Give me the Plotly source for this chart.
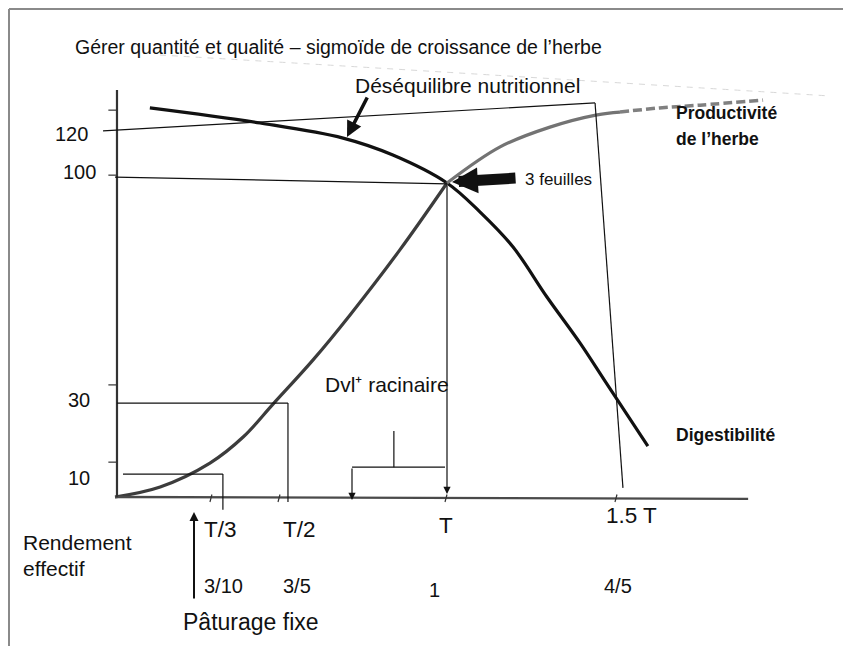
import plotly.graph_objects as go

# ---------------- data (x in units of T, y relative: 3-leaf point = 100) ----------------
prod_x_early = [0, 0.136, 0.286, 0.386, 0.476, 0.596, 0.708, 0.858, 1.0]
prod_y_early = [0, 3.2, 10.8, 19.1, 29.6, 43.6, 58.0, 78.7, 100]
prod_x_late = [1.0, 1.160, 1.310, 1.452, 1.521]
prod_y_late = [100, 111.5, 117.8, 121.7, 122.6]
prod_x_dash = [1.521, 1.640, 1.762, 1.952]
prod_y_dash = [122.6, 123.9, 124.8, 126.4]

dig_x = [0.105, 0.437, 0.687, 0.837, 1.0, 1.099, 1.199, 1.301, 1.401, 1.476, 1.605]
dig_y = [123.9, 119.1, 114.3, 108.9, 100, 90.8, 79.6, 63.7, 49.0, 36.9, 16.2]

x_tick_vals = [0.292, 0.497, 1.0, 1.512]
x_tick_labels = ["T/3", "T/2", "T", "1.5 T"]
rendement_labels = ["3/10", "3/5", "1", "4/5"]
y_tick_labels = ["120", "100", "30", "10"]
y_tick_vals = [123.2, 102.5, 35.7, 11.1]

title_text = "Gérer quantité et qualité – sigmoïde de croissance de l’herbe"

# ---------------- geometry of the page ----------------
W, H = 851, 646        # window
OFF = 8                # page body margin
X0, SX = 115, 332      # pixel of x=0, pixels per T
Y0, SY = 497, 3.14     # pixel of y=0, pixels per unit

def px(x):
    return (x - X0) / SX

def py(y):
    return (Y0 - y) / SY

def pp(x, y):
    return (x - OFF) / (W - OFF), 1 - (y - OFF) / (H - OFF)

FONT = "Liberation Sans, Arial, sans-serif"
fig = go.Figure()

# curves
fig.add_trace(go.Scatter(x=dig_x, y=dig_y, mode="lines", line=dict(color="#111111", width=3.2, shape="spline"),
                         hoverinfo="skip"))
fig.add_trace(go.Scatter(x=prod_x_early, y=prod_y_early, mode="lines",
                         line=dict(color="#3c3c3c", width=3.2, shape="spline"), hoverinfo="skip"))
fig.add_trace(go.Scatter(x=prod_x_late, y=prod_y_late, mode="lines",
                         line=dict(color="#737373", width=3.2, shape="spline"), hoverinfo="skip"))
fig.add_trace(go.Scatter(x=prod_x_dash, y=prod_y_dash, mode="lines",
                         line=dict(color="#808080", width=3.5, shape="spline", dash="9px,4px"), hoverinfo="skip"))

shapes = []
def seg(x0, y0, x1, y1, color="#111111", width=1.2, dash=None):
    d = dict(type="line", xref="x", yref="y", x0=x0, y0=y0, x1=x1, y1=y1,
             line=dict(color=color, width=width))
    if dash:
        d["line"]["dash"] = dash
    shapes.append(d)

# axes
seg(0, 0, 1.907, -0.6, color="#4a4a4a", width=2.4)
seg(0.006, 0, 0.006, 129.6, color="#333333", width=2.2)
# x ticks
for v in x_tick_vals:
    seg(v, 0.8, v - 0.006, -1.6, color="#333333", width=1.2)
# y ticks
for v in y_tick_vals:
    seg(-0.02, v, 0.006, v, color="#333333", width=1.2)

# guide lines
seg(-0.036, 116.6, 1.446, 125.5)     # 120 line (déséquilibre)
seg(1.446, 125.5, 1.530, 2.9)
seg(0.0, 101.9, 1.0, 99.7)           # 100 line
seg(0.006, 29.9, 0.521, 29.9)        # 30 line
seg(0.521, 29.9, 0.521, -1.6)
seg(0.024, 7.3, 0.325, 7.3)          # 10 line
seg(0.325, 7.3, 0.325, -4.1)
# Dvl+ bracket
seg(0.84, 21.0, 0.84, 9.5)
seg(0.714, 9.5, 0.994, 9.5)
# faint scan line at top
shapes.append(dict(type="path", xref="paper", yref="paper",
                   path="M {:.4f},{:.4f} Q {:.4f},{:.4f} {:.4f},{:.4f}".format(
                       *pp(160, 55), *pp(480, 74), *pp(830, 96)),
                   line=dict(color="#d8d8d8", width=1, dash="6px,6px")))
# page frame
shapes.append(dict(type="line", xref="paper", yref="paper", x0=pp(9, 9)[0], y0=pp(9, 9)[1], x1=1, y1=pp(9, 9)[1],
                   line=dict(color="#8a8a8a", width=2)))
shapes.append(dict(type="line", xref="paper", yref="paper", x0=pp(9, 9)[0], y0=pp(9, 9)[1], x1=pp(9, 9)[0], y1=0,
                   line=dict(color="#8a8a8a", width=2)))

ann = []
def text(s, x, y, size, anchor="left", bold=False, color="#111111"):
    if anchor == "left":
        x -= 2
    elif anchor == "right":
        x += 2
    xp, yp = pp(x, y)
    ann.append(dict(text=("<b>%s</b>" % s) if bold else s, x=xp, y=yp, xref="paper", yref="paper",
                    xanchor=anchor, yanchor="middle", showarrow=False,
                    font=dict(family=FONT, size=size, color=color)))

def arrow(xt, yt, xa, ya, width, size=1.0, head=2, color="#111111"):
    ann.append(dict(text="", x=xt, y=yt, ax=xa, ay=ya, xref="x", yref="y", axref="x", ayref="y",
                    showarrow=True, arrowhead=head, arrowsize=size, arrowwidth=width, arrowcolor=color))

text(title_text, 75, 47, 19.5)
text("Déséquilibre nutritionnel", 355, 85, 21)
text("Productivité", 676, 113, 17.5, bold=True)
text("de l’herbe", 676, 139, 17.5, bold=True)
text("3 feuilles", 525, 179, 17)
text("Dvl⁺ racinaire", 325, 384, 21)
text("Digestibilité", 676, 435, 17.5, bold=True)

# y labels
y_label_pix = [134, 172, 400, 478]
y_label_right = [88, 96, 90, 90]
for lab, yy, xr in zip(y_tick_labels, y_label_pix, y_label_right):
    text(lab, xr, yy, 20, anchor="right")

# x labels
x_label_pix = [(220, 529), (299, 529), (446, 525), (631, 515)]
for lab, (xx, yy) in zip(x_tick_labels, x_label_pix):
    text(lab, xx, yy, 22.5, anchor="center")
r_label_pix = [(223, 586), (297, 586), (434, 590), (618, 586)]
for lab, (xx, yy) in zip(rendement_labels, r_label_pix):
    text(lab, xx, yy, 20, anchor="center")

text("Rendement", 23, 542, 21)
text("effectif", 23, 568, 21)
text("Pâturage fixe", 183, 622, 23)

# arrows
arrow(px(447), py(494), px(447), py(184), 1.2, size=1.2)          # T vertical arrow
arrow(px(352), py(500), px(352), py(467), 1.2, size=1.2)          # bracket left arrow
arrow(px(347), py(137), px(368), py(96), 3.5, size=0.9)           # déséquilibre arrow
arrow(px(452), py(182), px(517), py(178), 11, size=0.47)          # 3 feuilles arrow
arrow(px(194), py(512), px(194), py(600), 2, size=0.9)            # pâturage fixe arrow

fig.update_layout(
    width=W - OFF, height=H - OFF, margin=dict(l=0, r=0, t=0, b=0),
    paper_bgcolor="white", plot_bgcolor="white", showlegend=False,
    xaxis=dict(range=[px(OFF), px(W)], visible=False, fixedrange=True),
    yaxis=dict(range=[py(H), py(OFF)], visible=False, fixedrange=True),
    shapes=shapes, annotations=ann,
)
fig.write_html("out.html")
